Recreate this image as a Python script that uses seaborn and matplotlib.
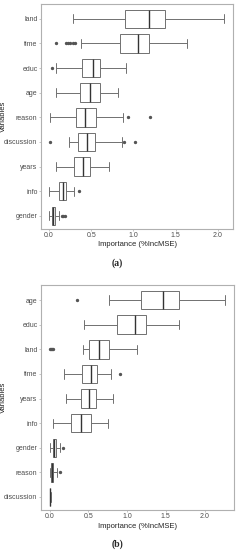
import matplotlib
matplotlib.use("Agg")
import matplotlib.pyplot as plt
import seaborn as sns
import pandas as pd

# Panel (a): box summaries
vars_a = ["land", "time", "educ", "age", "reason", "discussion", "years", "info", "gender"]
low_a = [0.28, 0.38, 0.08, 0.08, 0.01, 0.24, 0.08, 0.04, 0.00]
q1_a = [0.90, 0.84, 0.39, 0.37, 0.32, 0.34, 0.30, 0.12, 0.03]
med_a = [1.18, 1.05, 0.52, 0.49, 0.43, 0.45, 0.40, 0.16, 0.05]
q3_a = [1.37, 1.18, 0.60, 0.60, 0.56, 0.55, 0.49, 0.20, 0.07]
high_a = [2.07, 1.63, 0.91, 0.82, 0.88, 0.86, 0.71, 0.29, 0.12]
out_a = [[], [0.08, 0.20, 0.22, 0.25, 0.28, 0.31], [0.03], [], [0.94, 1.20],
         [0.01, 0.89, 1.02], [], [0.00, 0.35], [0.15, 0.17, 0.19]]

# Panel (b)
vars_b = ["age", "educ", "land", "time", "years", "info", "gender", "reason", "discussion"]
low_b = [0.77, 0.44, 0.43, 0.19, 0.21, 0.04, 0.01, 0.00, 0.000]
q1_b = [1.18, 0.87, 0.51, 0.42, 0.41, 0.28, 0.04, 0.02, 0.003]
med_b = [1.47, 1.10, 0.64, 0.54, 0.51, 0.41, 0.06, 0.035, 0.006]
q3_b = [1.67, 1.25, 0.77, 0.61, 0.60, 0.53, 0.08, 0.05, 0.010]
high_b = [2.26, 1.67, 1.13, 0.79, 0.82, 0.75, 0.14, 0.09, 0.018]
out_b = [[0.35], [], [0.00, 0.02, 0.03, 0.05], [0.91], [], [], [0.17], [0.13], []]


def build_frame(names, low, q1, med, q3, high, outs):
    # observations whose quartiles / whisker ends match the read summaries
    rows = []
    for i, name in enumerate(names):
        vals = outs[i] + [low[i]] + [q1[i]] * 20 + [med[i]] * 21 + [q3[i]] * 20 + [high[i]]
        rows += [{"variable": name, "importance": v} for v in vals]
    return pd.DataFrame(rows)


sns.set_theme(style="ticks")
plt.rcParams["font.family"] = ["Liberation Sans", "DejaVu Sans"]

fig = plt.figure(figsize=(2.4, 5.5), dpi=100)
panels = [
    (build_frame(vars_a, low_a, q1_a, med_a, q3_a, high_a, out_a), vars_a,
     [0.171, 0.584, 0.800, 0.409], (-0.095, 2.18), "(a)", 263),
    (build_frame(vars_b, low_b, q1_b, med_b, q3_b, high_b, out_b), vars_b,
     [0.171, 0.0727, 0.804, 0.409], (-0.11, 2.38), "(b)", 544),
]

for df, order, rect, xlim, tag, tag_y in panels:
    ax = fig.add_axes(rect)
    sns.boxplot(data=df, x="importance", y="variable", order=order, orient="h",
                color="white", linecolor="#707070", linewidth=0.7, width=0.75,
                fliersize=1.4, ax=ax,
                flierprops=dict(marker="o", markerfacecolor="#555555",
                                markeredgecolor="#555555"),
                medianprops=dict(color="#333333", linewidth=1.0))
    ax.set_xlim(*xlim)
    ax.set_ylim(8.53, -0.61)
    ax.set_xticks([0.0, 0.5, 1.0, 1.5, 2.0])
    ax.set_xticklabels(["0.0", "0.5", "1.0", "1.5", "2.0"])
    for s in ax.spines.values():
        s.set_visible(True)
        s.set_color("#b0b0b0")
        s.set_linewidth(0.8)
    ax.tick_params(axis="both", labelsize=5, colors="#b0b0b0", labelcolor="#4d4d4d",
                   length=1.5, width=0.5, pad=1)
    ax.set_xlabel("Importance (%IncMSE)", fontsize=5.5, color="#222222", labelpad=1.5)
    ax.set_ylabel("Variables", fontsize=5.5, color="#222222")
    ax.yaxis.set_label_coords(-0.175, 0.5)
    fig.text(0.49, 1 - tag_y / 550, tag, ha="center", va="center", fontsize=7,
             fontweight="bold", family=["Liberation Serif", "DejaVu Serif"])

fig.savefig("out.png", dpi=100)
